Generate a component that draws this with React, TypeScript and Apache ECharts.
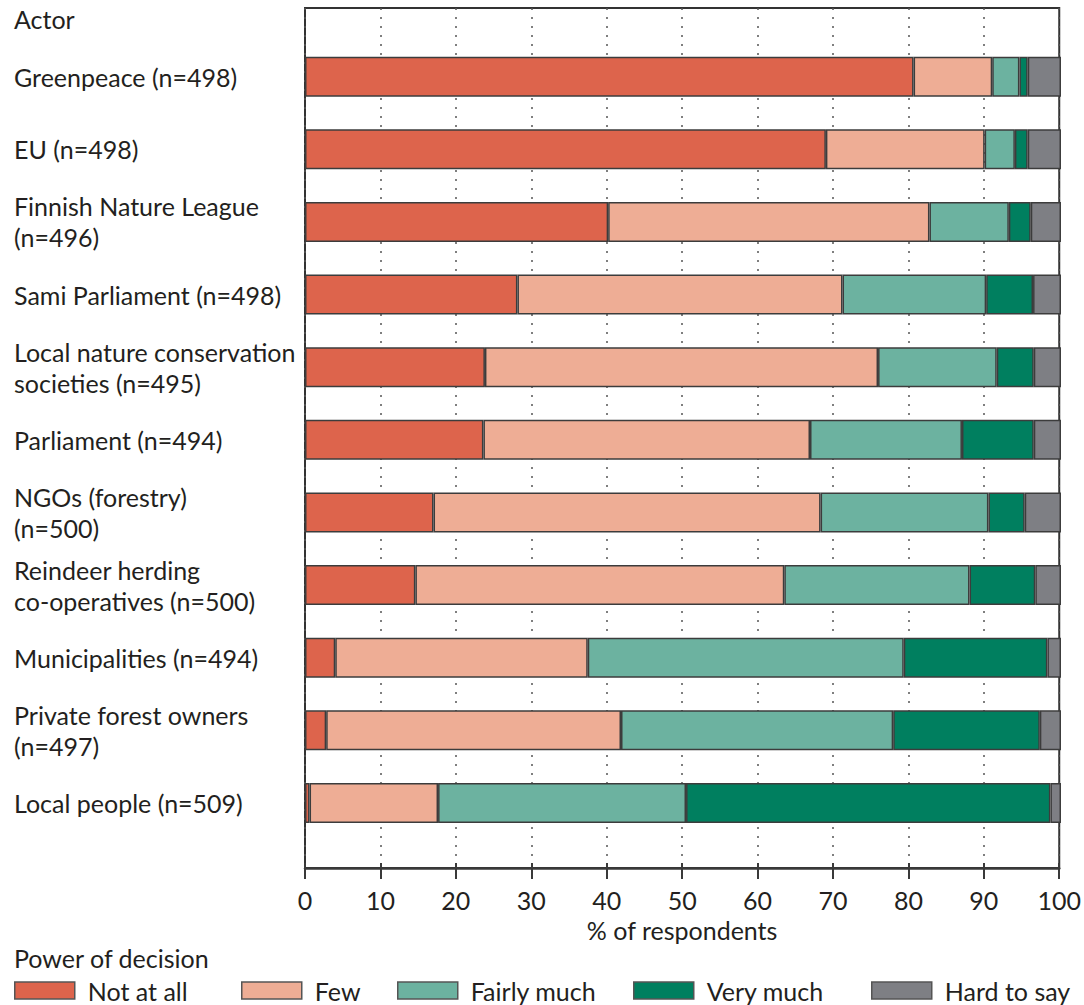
import React, { useEffect, useRef } from "react";
import * as echarts from "echarts";

const actors = [
  "Greenpeace (n=498)",
  "EU (n=498)",
  "Finnish Nature League\n(n=496)",
  "Sami Parliament (n=498)",
  "Local nature conservation\nsocieties (n=495)",
  "Parliament (n=494)",
  "NGOs (forestry)\n(n=500)",
  "Reindeer herding\nco-operatives (n=500)",
  "Municipalities (n=494)",
  "Private forest owners\n(n=497)",
  "Local people (n=509)",
];

const notAtAll = [80.5, 68.9, 40.1, 28.1, 23.8, 23.6, 17.0, 14.6, 4.0, 2.8, 0.6];
const few = [10.4, 21.0, 42.5, 43.0, 52.0, 43.2, 51.2, 48.8, 33.4, 39.0, 17.0];
const fairlyMuch = [3.6, 4.0, 10.5, 19.0, 15.7, 20.1, 22.2, 24.5, 41.8, 36.0, 32.8];
const veryMuch = [1.1, 1.7, 2.9, 6.2, 4.9, 9.5, 4.8, 8.7, 19.0, 19.4, 48.2];
const hardToSay = [4.4, 4.4, 4.0, 3.7, 3.6, 3.6, 4.8, 3.4, 1.8, 2.8, 1.4];

const seriesNames = ["Not at all", "Few", "Fairly much", "Very much", "Hard to say"];
const seriesColors = ["#DD644C", "#EEAD95", "#6CB2A0", "#007F5F", "#7E7F84"];
const seriesData = [notAtAll, few, fairlyMuch, veryMuch, hardToSay];
const xTicks = [0, 10, 20, 30, 40, 50, 60, 70, 80, 90, 100];
const legendLefts = [14, 241, 397, 633, 871];

const FONT = "Lato";
const FS = 25;
const TXT = "#231f20";

export default function App() {
  const ref = useRef<HTMLDivElement>(null);
  useEffect(() => {
    if (!ref.current) return;
    const chart = echarts.init(ref.current, undefined, { renderer: "svg" });
    const option: any = {
      animation: false,
      backgroundColor: "#ffffff",
      textStyle: { fontFamily: FONT, color: TXT },
      graphic: [
        {
          type: "text",
          left: 14,
          top: 6,
          style: { text: "Actor", fontSize: FS, fontFamily: FONT, fill: TXT },
        },
        {
          type: "text",
          left: 14,
          top: 945,
          style: { text: "Power of decision", fontSize: FS, fontFamily: FONT, fill: TXT },
        },
      ],
      legend: seriesNames.map((n, i) => ({
        data: [n],
        left: legendLefts[i],
        top: 978,
        padding: 0,
        itemWidth: 60,
        itemHeight: 17,
        icon: "rect",
        selectedMode: false,
        itemStyle: { borderColor: "#555", borderWidth: 1.5 },
        textStyle: {
          fontSize: FS,
          fontFamily: FONT,
          color: TXT,
          lineHeight: 24,
          padding: [0, 0, 0, 8],
        },
      })),
      grid: [
        {
          left: 305,
          right: 23,
          top: 8,
          bottom: 137,
          show: true,
          borderColor: "#333",
          borderWidth: 2,
          backgroundColor: "#fff",
        },
        {
          left: 305,
          right: 23,
          top: 40.4,
          bottom: 165.7,
        },
      ],
      xAxis: [
        {
          gridIndex: 0,
          type: "value",
          min: 0,
          max: 100,
          interval: 10,
          position: "bottom",
          name: "% of respondents",
          nameLocation: "middle",
          nameGap: 61,
          nameTextStyle: { fontSize: FS, fontFamily: FONT, color: TXT, verticalAlign: "middle" },
          axisLine: { show: true, lineStyle: { color: "#3a3a3a", width: 2.5 } },
          axisTick: { show: true, length: 11, lineStyle: { color: "#3a3a3a", width: 2 } },
          axisLabel: {
            fontSize: FS,
            fontFamily: FONT,
            color: TXT,
            margin: 32,
            verticalAlign: "middle",
            formatter: (v: number) => (xTicks.includes(v) ? String(v) : ""),
          },
          splitLine: {
            show: true,
            lineStyle: { color: "#555", width: 1.5, type: [2, 7] },
          },
        },
        {
          gridIndex: 0,
          type: "value",
          min: 0,
          max: 100,
          interval: 10,
          position: "bottom",
          axisLine: { show: false },
          axisTick: { show: true, inside: true, length: 5, lineStyle: { color: "#3a3a3a", width: 2 } },
          axisLabel: { show: false },
          splitLine: { show: false },
        },
        {
          gridIndex: 1,
          type: "value",
          min: 0,
          max: 100,
          show: false,
        },
      ],
      yAxis: [
        { gridIndex: 0, type: "value", show: false },
        {
          gridIndex: 1,
          type: "category",
          data: actors,
          inverse: true,
          axisLine: { show: false },
          axisTick: { show: false },
          splitLine: { show: false },
          axisLabel: {
            align: "left",
            margin: 291,
            fontSize: FS,
            fontFamily: FONT,
            color: TXT,
            lineHeight: 31,
            padding: [6, 0, 0, 0],
          },
        },
      ],
      series: seriesNames.map((n, i) => ({
        name: n,
        type: "bar",
        stack: "total",
        xAxisIndex: 2,
        yAxisIndex: 1,
        barWidth: 40,
        data: seriesData[i],
        itemStyle: { color: seriesColors[i], borderColor: "#3c3c3c", borderWidth: 1.5 },
      })),
    };
    chart.setOption(option);
    return () => chart.dispose();
  }, []);
  return (
    <div
      ref={ref}
      style={{ position: "absolute", left: 0, top: 0, width: 1084, height: 1005 }}
    />
  );
}
